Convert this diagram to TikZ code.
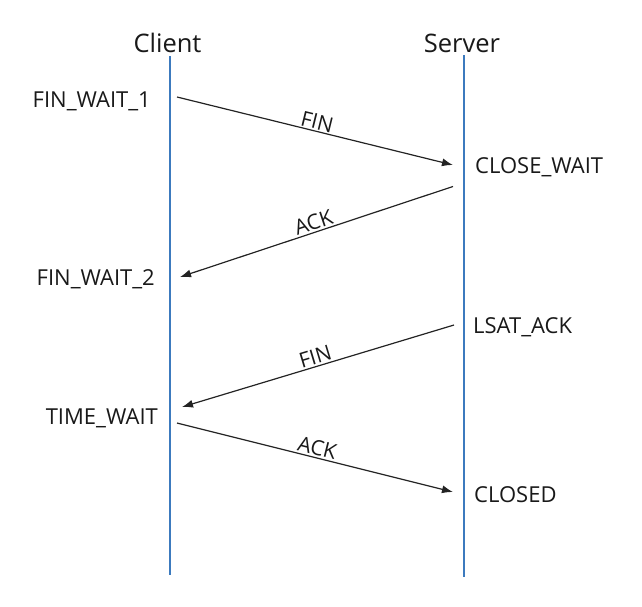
\documentclass[tikz,border=0pt]{standalone}
\usepackage{fontspec}
\setmainfont{Open Sans}
\usetikzlibrary{arrows.meta}
\definecolor{lifeblue}{RGB}{60,122,190}
\definecolor{msgcol}{RGB}{35,35,35}
\definecolor{txtcol}{RGB}{25,25,25}
\begin{document}
\begin{tikzpicture}[x=1pt,y=-1pt,
  head/.style={font=\fontsize{25.5}{30}\selectfont, inner sep=0pt, anchor=base, text=txtcol},
  state/.style={font=\fontsize{22}{26}\selectfont, inner sep=0pt, text=txtcol},
  lifeline/.style={draw=lifeblue, line width=2pt},
  msgarrow/.style={draw=msgcol, line width=1.2pt, -{Latex[length=11pt,width=8pt]}},
  msglabel/.style={font=\fontsize{21}{25}\selectfont, sloped, above, inner sep=1.5pt, pos=0.5, text=txtcol}]
\useasboundingbox (0,0) rectangle (642,606);
% headers
\node[head] (client) at (167.5,52) {Client};
\node[head] (server) at (462,52) {Server};
% lifelines
\coordinate (ctop) at (169.5,56);
\coordinate (cbot) at (169.5,575);
\coordinate (stop) at (464,55);
\coordinate (sbot) at (464,577);
\draw[lifeline] (ctop) -- (cbot);
\draw[lifeline] (stop) -- (sbot);
% states
\node[state, anchor=base east] (fw1) at (151,107) {FIN\_WAIT\_1};
\node[state, anchor=base east] (fw2) at (155,285) {FIN\_WAIT\_2};
\node[state, anchor=base east] (tw) at (158,424) {TIME\_WAIT};
\node[state, anchor=base west] (cw) at (475,173) {CLOSE\_WAIT};
\node[state, anchor=base west] (la) at (473,333) {LSAT\_ACK};
\node[state, anchor=base west] (cl) at (474,502) {CLOSED};
% message end points
\coordinate (a1s) at (177,97);
\coordinate (a1e) at (453,165);
\coordinate (a2s) at (453,186.5);
\coordinate (a2e) at (180,277);
\coordinate (a3s) at (454,325);
\coordinate (a3e) at (182,407);
\coordinate (a4s) at (177,423);
\coordinate (a4e) at (453,492);
% messages
\draw[msgarrow] (a1s) -- node[msglabel] (l1) {FIN} (a1e);
\draw[msgarrow] (a2s) -- node[msglabel] (l2) {ACK} (a2e);
\draw[msgarrow] (a3s) -- node[msglabel] (l3) {FIN} (a3e);
\draw[msgarrow] (a4s) -- node[msglabel] (l4) {ACK} (a4e);
\end{tikzpicture}
\end{document}
